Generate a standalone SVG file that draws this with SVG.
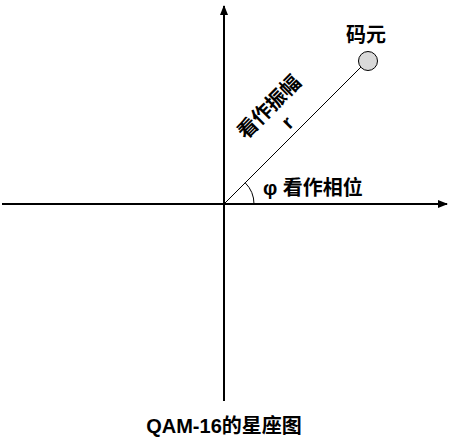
<svg xmlns="http://www.w3.org/2000/svg" width="453" height="439" viewBox="0 0 453 439">
<defs>
<marker id="arr" markerWidth="10" markerHeight="8" refX="9" refY="4" orient="auto" markerUnits="userSpaceOnUse">
<path d="M0,0 L10,4 L0,8 z" fill="#000"/>
</marker>
<style>
.t{font-family:"Liberation Sans","Noto Sans CJK SC",sans-serif;font-weight:bold;font-size:20px;fill:#000}
.ax{stroke:#000;stroke-width:2;fill:none}
.ln{stroke:#000;stroke-width:1;fill:none}
</style>
</defs>
<rect width="453" height="439" fill="#fff"/>
<g id="connectors">
<line class="ax" x1="2" y1="204" x2="447" y2="204" marker-end="url(#arr)"/>
<line class="ax" x1="224" y1="401" x2="224" y2="6" marker-end="url(#arr)"/>
<line class="ln" x1="224" y1="204" x2="361" y2="67"/>
<path class="ln" d="M254,204 A30,30 0 0 0 245.2,182.8"/>
</g>
<g id="symbol">
<circle cx="368" cy="61" r="9.5" fill="#d9d9d9" stroke="#000" stroke-width="1"/>
<text class="t" x="366" y="42" text-anchor="middle">码元</text>
</g>
<g id="amplitude">
<text class="t" transform="translate(269,107) rotate(-45)" x="0" y="7" text-anchor="middle" font-size="21">看作振幅</text>
<text class="t" transform="translate(288,123) rotate(-45)" x="0" y="6" text-anchor="middle" font-size="18">r</text>
</g>
<g id="phase">
<text class="t" x="263" y="195" font-size="20.5">φ 看作相位</text>
</g>
<g id="title">
<text class="t" x="224" y="433" text-anchor="middle">QAM-16的星座图</text>
</g>
</svg>
